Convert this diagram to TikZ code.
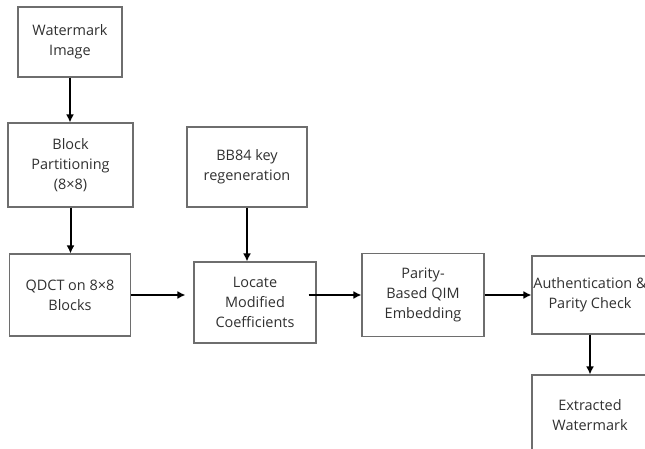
\documentclass[tikz,border=0pt]{standalone}
\usepackage{fontspec}
\setmainfont{Open Sans}
\usetikzlibrary{arrows.meta}
\definecolor{boxgray}{HTML}{6E6E6E}
\definecolor{txtgray}{HTML}{303030}
\tikzset{
	stage/.style={draw=boxgray, line width=1.1bp, align=center, text=txtgray, inner sep=0pt,
		font=\fontsize{14.5}{20}\selectfont},
	flow/.style={line width=2bp, -{Latex[length=8bp,width=8bp]}}
}

\begin{document}
\begin{tikzpicture}[x=1bp, y=-1bp]
			%%%%% START %%%%%
			
			\useasboundingbox (0, 0) rectangle (645, 449);
			\clip (0, 0) rectangle (645, 449);
			
			\node[stage, minimum width=104bp, minimum height=70bp] (wm) at (70, 42) {Watermark\\Image};
			\node[stage, minimum width=125bp, minimum height=84bp] (bp) at (70.5, 165) {Block\\Partitioning\\(8×8)};
			\node[stage, minimum width=121bp, minimum height=82bp] (qdct) at (70, 295) {QDCT on 8×8\\Blocks};
			
			\node[stage, minimum width=120bp, minimum height=80bp] (bb84) at (247, 167) {BB84 key\\regeneration};
			\node[stage, minimum width=122bp, minimum height=81bp] (loc) at (255, 302.5) {Locate\\Modified\\Coefficients};
			
			\node[stage, minimum width=122bp, minimum height=83bp] (qim) at (423, 295) {Parity-\\Based QIM\\Embedding};
			\node[stage, minimum width=116bp, minimum height=78bp] (auth) at (590, 295) {\makebox[0pt]{Authentication \&}\\Parity Check};
			\node[stage, minimum width=116bp, minimum height=80bp] (ext) at (590, 415) {Extracted\\Watermark};
			
			\draw[flow] (wm.south) -- (wm.south |- bp.north);
			\draw[flow] (bp.south) -- (bp.south |- qdct.north);
			\draw[flow] (bb84.south) -- (bb84.south |- loc.north);
			
			\draw[flow, shorten >=8bp] (qdct.east) -- (qdct.east -| loc.west);
			\draw[flow] ([xshift=-8bp]qim.west -| loc.east) -- (qim.west);
			\draw[flow] (qim.east) -- (auth.west);
			
			\draw[flow] (auth.south) -- (ext.north);
			
			%%%%% END %%%%%
\end{tikzpicture}
\end{document}
